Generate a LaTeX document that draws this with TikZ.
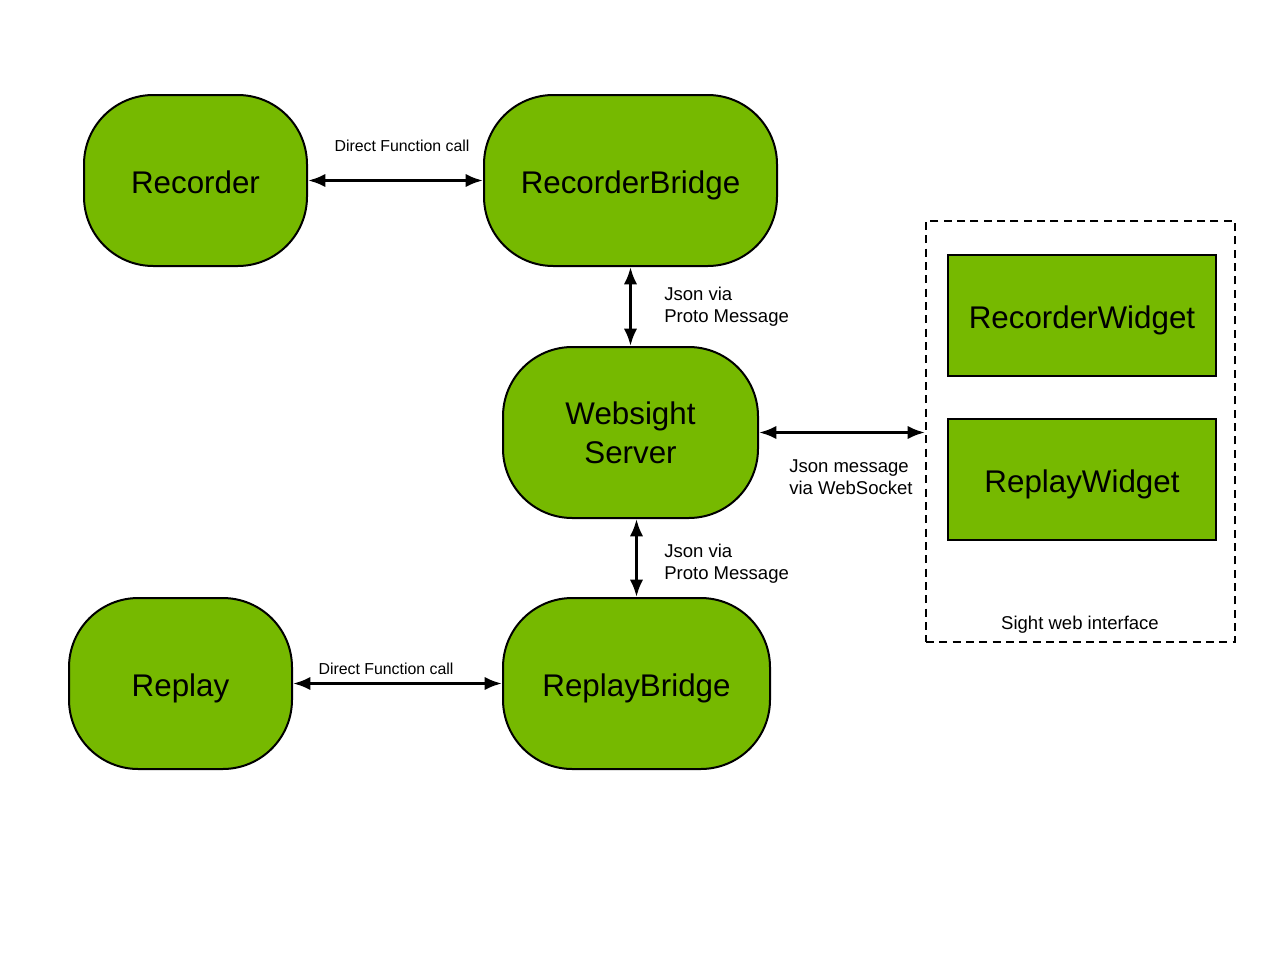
\documentclass[tikz,border=0pt]{standalone}
\usepackage{fontspec}
\setmainfont{Liberation Sans}
\usetikzlibrary{arrows.meta}
\definecolor{ngreen}{HTML}{76B900}
\tikzset{
  rbox/.style={draw=black, line width=1.5pt, fill=ngreen, rounded corners=52pt, inner sep=0pt, font=\fontsize{23.5}{29}\selectfont, align=center},
  oneline/.style={text height=22pt, text depth=3.2pt},
  wbox/.style={draw=black, line width=1.5pt, fill=ngreen, inner sep=0pt, font=\fontsize{23.5}{29}\selectfont, minimum width=201pt, minimum height=90.75pt, oneline},
  conn/.style={line width=2.2pt, {Latex[length=13pt,width=10pt]}-{Latex[length=13pt,width=10pt]}},
  lbl/.style={font=\fontsize{13.9}{16.5}\selectfont, align=left, inner sep=0pt, anchor=west},
  slbl/.style={font=\fontsize{11.9}{14}\selectfont, inner sep=0pt}
}
\begin{document}
\begin{tikzpicture}[x=0.75pt, y=-0.75pt]
\useasboundingbox[fill=white] (0,0) rectangle (1280,960);
\node[rbox, oneline, minimum width=167.25pt, minimum height=128.25pt] (rec) at (195.5,180.5) {Recorder};
\node[rbox, oneline, minimum width=219.75pt, minimum height=128.25pt] (rb) at (630.5,180.5) {RecorderBridge};
\node[rbox, minimum width=191.25pt, minimum height=128.25pt] (ws) at (630.5,432.5) {Websight\\Server};
\node[rbox, oneline, minimum width=167.25pt, minimum height=128.25pt] (rp) at (180.5,683.5) {Replay};
\node[rbox, oneline, minimum width=200.25pt, minimum height=128.25pt] (rpb) at (636.5,683.5) {ReplayBridge};
\node[draw=black, line width=1.5pt, dash pattern=on 6pt off 4pt, minimum width=231.75pt, minimum height=315.75pt, inner sep=0pt] (iface) at (1080.5,431.5) {};
\node[wbox] (rw) at (1082,315.5) {RecorderWidget};
\node[wbox] (plw) at (1082,479.5) {ReplayWidget};
\node[font=\fontsize{13.9}{16.5}\selectfont, inner sep=0pt] (iflbl) at (1080,625) {Sight web interface};

\draw[conn] (rec) -- (rb);
\draw[conn] (rb) -- (ws);
\draw[conn] (ws.south -| rpb) -- (rpb.north);
\draw[conn] (ws.east) -- (ws.east -| iface.west);
\draw[conn] (rp) -- (rpb);

\node[slbl] (l1) at (402,146) {Direct Function call};
\node[slbl] (l2) at (386,669) {Direct Function call};
\node[lbl] (l3) at (664,307) {Json via\\Proto Message};
\node[lbl] (l4) at (664,564) {Json via\\Proto Message};
\node[lbl] (l5) at (789,477) {Json message\\via WebSocket};
\end{tikzpicture}
\end{document}
